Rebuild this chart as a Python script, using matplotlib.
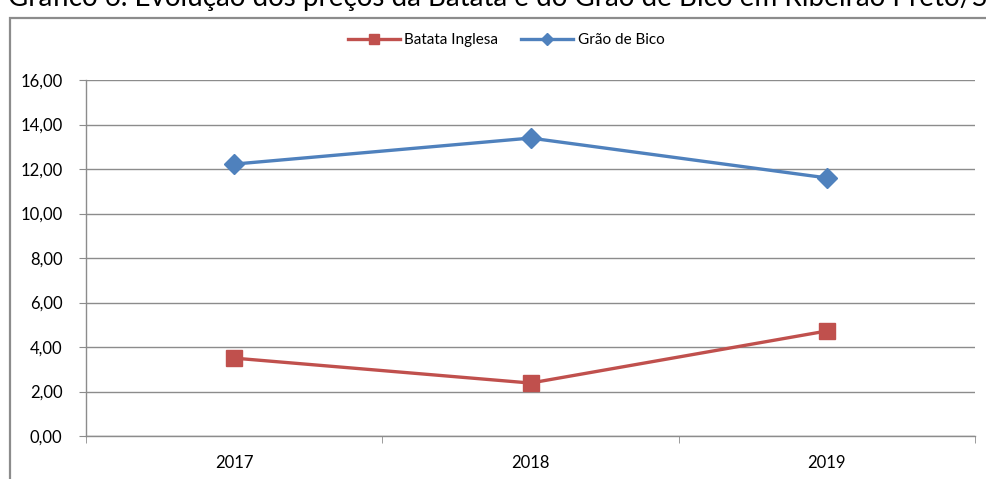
import matplotlib.pyplot as plt
from matplotlib.patches import Rectangle
from matplotlib.ticker import FuncFormatter, FixedLocator

anos = ["2017", "2018", "2019"]
batata = [3.50, 2.38, 4.72]
grao = [12.22, 13.39, 11.60]

titulo = "Gráfico 6. Evolução dos preços da Batata e do Grão de Bico em Ribeirão Preto/SP"

plt.rcParams['font.family'] = ['Lato', 'DejaVu Sans']

fig = plt.figure(figsize=(9.86, 4.79), dpi=100)
W, H = 986, 479

# chart frame (cut off at right and bottom)
fig.patches.append(Rectangle((10 / W, -0.1), 1.1, 1 - 18 / H + 0.1,
                             transform=fig.transFigure, fill=False,
                             edgecolor='#8c8c8c', lw=1.6))
# title, only its lower part is visible
fig.text(8 / W, 1 - 6 / H, titulo, fontsize=20, va='baseline', ha='left', color='black')

ax = fig.add_axes([86 / W, 1 - 436 / H, (975 - 86) / W, (436 - 80) / H])

x = list(range(len(anos)))
ax.plot(x, batata, color='#C0504D', lw=2.4, marker='s', markersize=11,
        label='Batata Inglesa')
ax.plot(x, grao, color='#4F81BD', lw=2.4, marker='D', markersize=10,
        label='Grão de Bico')

ax.set_xlim(-0.5, len(anos) - 0.5)
ax.set_ylim(0, 16)
ax.set_yticks(range(0, 17, 2))
ax.yaxis.set_major_formatter(FuncFormatter(lambda v, p: f"{v:.2f}".replace('.', ',')))
ax.grid(axis='y', color='#8c8c8c', lw=1)
ax.set_axisbelow(True)

ax.set_xticks(x)
ax.set_xticklabels(anos)
ax.xaxis.set_minor_locator(FixedLocator([-0.5, 0.5, 1.5, 2.5]))
ax.tick_params(axis='x', which='major', length=0, pad=14, labelsize=12)
ax.tick_params(axis='x', which='minor', length=5, color='#8c8c8c', direction='out')
ax.tick_params(axis='y', length=5, color='#8c8c8c', pad=12, labelsize=12)

for s in ['top', 'right']:
    ax.spines[s].set_visible(False)
for s in ['left', 'bottom']:
    ax.spines[s].set_color('#8c8c8c')
    ax.spines[s].set_linewidth(1)

fig.legend(loc='center', bbox_to_anchor=(506 / W, 1 - 40 / H), ncol=2, frameon=False,
           fontsize=11, handlelength=3.4, columnspacing=1.5, handletextpad=0.3,
           markerscale=0.6)

fig.savefig('out.png', dpi=100)
